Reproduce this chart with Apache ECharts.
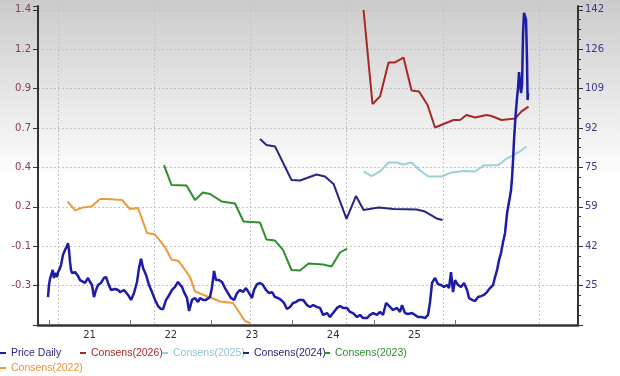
<!DOCTYPE html>
<html>
<head>
<meta charset="utf-8">
<script src="https://cdn.jsdelivr.net/npm/echarts@6/dist/echarts.min.js"></script>
<style>
html, body { margin: 0; padding: 0; background: #fff; }
#chart { width: 620px; height: 376px; }
</style>
</head>
<body>
<div id="chart"></div>
<script>
// tick labels
var leftTicks = ['-0.3', '-0.1', '0.2', '0.4', '0.7', '0.9', '1.2', '1.4'];
var rightTicks = ['25', '42', '59', '75', '92', '109', '126', '142'];
var yearLabels = ['21', '22', '23', '24', '25'];
var yearLabelPos = [21, 22, 23, 24, 25];
var yearTickPos = [20.5, 21.5, 22.5, 23.5, 24.5, 25.5];

// Price Daily (right axis)
var priceYears = [
	2020.896, 2020.906, 2020.917, 2020.927, 2020.945, 2020.958, 2020.969, 2020.990, 2021.000, 2021.021,
	2021.031, 2021.052, 2021.073, 2021.094, 2021.104, 2021.114, 2021.125, 2021.135, 2021.146, 2021.177,
	2021.208, 2021.229, 2021.249, 2021.281, 2021.312, 2021.333, 2021.353, 2021.374, 2021.395, 2021.416,
	2021.447, 2021.478, 2021.499, 2021.520, 2021.551, 2021.593, 2021.624, 2021.645, 2021.686, 2021.728,
	2021.759, 2021.790, 2021.821, 2021.842, 2021.863, 2021.884, 2021.915, 2021.946, 2021.977, 2022.008,
	2022.040, 2022.071, 2022.092, 2022.123, 2022.143, 2022.185, 2022.216, 2022.247, 2022.289, 2022.310,
	2022.341, 2022.362, 2022.393, 2022.424, 2022.455, 2022.476, 2022.507, 2022.538, 2022.580, 2022.601,
	2022.622, 2022.642, 2022.674, 2022.705, 2022.736, 2022.767, 2022.798, 2022.830, 2022.861, 2022.892,
	2022.923, 2022.954, 2022.986, 2023.017, 2023.037, 2023.069, 2023.100, 2023.131, 2023.162, 2023.193,
	2023.225, 2023.256, 2023.287, 2023.318, 2023.349, 2023.380, 2023.412, 2023.443, 2023.474, 2023.505,
	2023.547, 2023.588, 2023.620, 2023.651, 2023.692, 2023.724, 2023.755, 2023.796, 2023.827, 2023.859,
	2023.900, 2023.931, 2023.963, 2024.004, 2024.035, 2024.067, 2024.108, 2024.139, 2024.171, 2024.212,
	2024.243, 2024.275, 2024.316, 2024.347, 2024.378, 2024.410, 2024.451, 2024.482, 2024.524, 2024.555,
	2024.576, 2024.607, 2024.638, 2024.680, 2024.711, 2024.742, 2024.784, 2024.815, 2024.846, 2024.867,
	2024.888, 2024.919, 2024.950, 2024.981, 2025.012, 2025.044, 2025.064, 2025.085, 2025.106, 2025.127,
	2025.158, 2025.189, 2025.220, 2025.252, 2025.272, 2025.304, 2025.335, 2025.366, 2025.397, 2025.428,
	2025.459, 2025.491, 2025.522, 2025.543, 2025.564, 2025.584, 2025.605, 2025.626, 2025.647, 2025.668,
	2025.688, 2025.709, 2025.720, 2025.730, 2025.740, 2025.751, 2025.761, 2025.772, 2025.782, 2025.792,
	2025.803, 2025.813, 2025.823, 2025.834, 2025.844, 2025.855, 2025.865, 2025.875, 2025.881, 2025.886
];
var priceValues = [
	20.4, 25.5, 28.1, 27.6, 31.9, 28.5, 30.6, 28.9, 31.0, 32.7,
	34.0, 38.3, 40.4, 42.1, 43.3, 40.4, 35.3, 31.9, 30.6, 31.0,
	29.3, 27.6, 28.1, 26.4, 28.5, 26.8, 25.5, 20.4, 23.4, 25.5,
	26.4, 28.5, 28.9, 26.4, 23.4, 23.8, 23.4, 22.5, 23.4, 21.3,
	19.2, 22.1, 26.8, 32.7, 36.6, 32.7, 29.8, 25.5, 22.5, 19.2,
	16.6, 15.3, 15.3, 19.2, 20.4, 23.4, 24.7, 26.8, 24.7, 22.5,
	20.0, 14.5, 19.2, 20.0, 18.3, 20.0, 19.2, 19.2, 20.4, 24.7,
	31.5, 27.6, 27.6, 26.8, 24.2, 22.1, 20.0, 19.2, 22.1, 23.4,
	22.5, 24.2, 22.1, 20.0, 23.4, 25.9, 26.4, 25.5, 23.4, 22.1,
	22.5, 20.4, 20.0, 19.2, 17.9, 15.3, 16.2, 17.9, 18.3, 19.2,
	19.2, 17.0, 16.2, 17.0, 16.2, 15.8, 12.8, 13.6, 11.9, 13.6,
	15.8, 16.6, 15.8, 15.8, 14.1, 13.6, 11.9, 12.8, 11.5, 11.5,
	12.8, 13.6, 12.8, 14.1, 12.8, 17.9, 16.2, 14.9, 15.8, 14.1,
	17.0, 13.6, 13.2, 13.6, 12.8, 11.9, 11.9, 11.5, 12.8, 18.3,
	26.4, 28.5, 25.9, 25.5, 24.7, 25.5, 24.2, 31.0, 22.5, 27.6,
	25.5, 24.7, 26.4, 23.4, 20.0, 19.2, 18.7, 20.4, 20.8, 21.3,
	22.5, 24.2, 25.5, 28.9, 31.9, 36.1, 39.1, 43.8, 47.6, 56.1,
	60.7, 65.8, 71.4, 78.6, 87.1, 94.3, 99.8, 105.3, 109.1, 115.9,
	111.2, 107.0, 110.4, 132.5, 141.0, 141.4, 138.0, 121.0, 104.0, 107.0
];

// consensus EPS (left axis)
var c2026Years = [2024.176, 2024.269, 2024.347, 2024.436, 2024.503, 2024.591, 2024.675, 2024.753, 2024.841, 2024.919,
	2025.007, 2025.111, 2025.179, 2025.246, 2025.335, 2025.454, 2025.506, 2025.610, 2025.751, 2025.818, 2025.891];
var c2026Values = [1.409, 0.812, 0.860, 1.076, 1.076, 1.107, 0.898, 0.892, 0.806, 0.663,
	0.685, 0.711, 0.711, 0.742, 0.727, 0.742, 0.736, 0.711, 0.720, 0.765, 0.796];

var c2025Years = [2024.176, 2024.259, 2024.347, 2024.436, 2024.519, 2024.591, 2024.675, 2024.763, 2024.851, 2024.987,
	2025.091, 2025.215, 2025.335, 2025.423, 2025.579, 2025.662, 2025.735, 2025.802, 2025.870];
var c2025Values = [0.384, 0.355, 0.384, 0.441, 0.441, 0.428, 0.441, 0.390, 0.352, 0.352,
	0.378, 0.387, 0.384, 0.422, 0.425, 0.466, 0.489, 0.511, 0.543];

var c2024Years = [2023.100, 2023.167, 2023.256, 2023.427, 2023.516, 2023.687, 2023.775, 2023.864, 2023.999, 2024.098,
	2024.176, 2024.332, 2024.488, 2024.727, 2024.815, 2024.935, 2024.997];
var c2024Values = [0.590, 0.552, 0.543, 0.330, 0.327, 0.365, 0.352, 0.305, 0.083, 0.229,
	0.140, 0.156, 0.146, 0.143, 0.130, 0.086, 0.076];

var c2023Years = [2022.102, 2022.180, 2022.336, 2022.424, 2022.507, 2022.580, 2022.700, 2022.840, 2022.928, 2023.100,
	2023.167, 2023.256, 2023.339, 2023.427, 2023.516, 2023.604, 2023.755, 2023.843, 2023.931, 2024.004];
var c2023Values = [0.425, 0.298, 0.295, 0.203, 0.251, 0.241, 0.194, 0.181, 0.067, 0.060,
	-0.048, -0.054, -0.114, -0.241, -0.244, -0.200, -0.206, -0.219, -0.130, -0.105];

var c2022Years = [2021.099, 2021.177, 2021.260, 2021.348, 2021.437, 2021.509, 2021.665, 2021.748, 2021.832, 2021.925,
	2022.008, 2022.112, 2022.180, 2022.253, 2022.372, 2022.424, 2022.528, 2022.611, 2022.684, 2022.819,
	2022.892, 2022.944, 2022.996];
var c2022Values = [0.194, 0.137, 0.156, 0.162, 0.209, 0.209, 0.203, 0.146, 0.152, -0.006,
	-0.016, -0.095, -0.174, -0.184, -0.285, -0.377, -0.403, -0.422, -0.441, -0.450,
	-0.517, -0.565, -0.577];

function zip(xs, ys) {
	var out = [];
	for (var i = 0; i < xs.length; i++) out.push([xs[i], ys[i]]);
	return out;
}

// label ticks counted from min; min and max themselves stay blank
function tickLabel(labels, min, step) {
	return function (v) {
		var k = (v - min) / step - 1;
		var i = Math.round(k);
		return Math.abs(k - i) < 0.01 && labels[i] != null ? labels[i] : '';
	};
}

var LMIN = -0.59, LMAX = 1.434, LSTEP = 0.25;
var RMIN = 8.54, RMAX = 143.91, RSTEP = 16.72;

var font = 'DejaVu Sans, Verdana, sans-serif';
var legendFont = 'Liberation Sans, Arial, sans-serif';

function consSeries(name, color, xs, ys) {
	return {
		name: name,
		type: 'line',
		xAxisIndex: 0,
		yAxisIndex: 0,
		data: zip(xs, ys),
		symbol: 'none',
		color: color,
		lineStyle: { color: color, width: 2 }
	};
}

function legendAt(name, color, left, top) {
	return {
		data: [name],
		left: left,
		top: top,
		padding: 0,
		icon: 'rect',
		itemWidth: 6,
		itemHeight: 2,
		selectedMode: false,
		textStyle: { color: color, fontFamily: legendFont, fontSize: 10.5, lineHeight: 14 }
	};
}

var chart = echarts.init(document.getElementById('chart'));
var option = {
	animation: false,
	backgroundColor: {
		type: 'linear', x: 0, y: 0, x2: 0, y2: 1,
		colorStops: [
			{ offset: 0, color: '#cbcbcb' },
			{ offset: 0.48, color: '#ffffff' },
			{ offset: 1, color: '#ffffff' }
		]
	},
	grid: { left: 38, right: 42, top: 6, bottom: 51 },
	legend: [
		legendAt('Price Daily', '#2a2a80', 0, 346),
		legendAt('Consens(2026)', '#a82828', 80, 346),
		legendAt('Consens(2025)', '#8fc3d3', 162, 346),
		legendAt('Consens(2024)', '#262680', 243, 346),
		legendAt('Consens(2023)', '#2f8f2f', 324, 346),
		legendAt('Consens(2022)', '#e8953a', 0, 361)
	],
	xAxis: [{
		type: 'value',
		min: 2020.792,
		max: 2026.405,
		position: 'bottom',
		axisLine: { show: true, onZero: false, lineStyle: { color: '#333', width: 2.5 } },
		axisTick: { show: false },
		axisLabel: { show: false },
		splitLine: { show: true, lineStyle: { color: '#c4c4c4', type: [2, 2], width: 1 } }
	}, {
		type: 'value',
		min: 20.365,
		max: 27.015,
		position: 'bottom',
		axisLine: { show: false, onZero: false },
		splitLine: { show: false },
		axisTick: { show: true, inside: true, length: 5, customValues: yearTickPos, lineStyle: { color: '#777' } },
		axisLabel: {
			customValues: yearLabelPos,
			margin: 5,
			color: '#333',
			fontFamily: font,
			fontSize: 10,
			formatter: function (v) {
				var i = yearLabelPos.indexOf(Math.round(v));
				return i >= 0 && Math.abs(v - Math.round(v)) < 0.01 ? yearLabels[i] : '';
			}
		}
	}],
	yAxis: [{
		type: 'value',
		position: 'left',
		min: LMIN,
		max: LMAX,
		interval: LSTEP,
		axisLine: { show: true, onZero: false, lineStyle: { color: '#333', width: 2 } },
		axisTick: { show: true, length: 5, lineStyle: { color: '#333' } },
		axisLabel: { color: '#8a3a4c', fontFamily: font, fontSize: 10, margin: 7, formatter: tickLabel(leftTicks, LMIN, LSTEP) },
		splitLine: { show: true, lineStyle: { color: '#c4c4c4', type: [2, 2], width: 1 } }
	}, {
		type: 'value',
		position: 'right',
		min: RMIN,
		max: RMAX,
		interval: RSTEP,
		axisLine: { show: true, onZero: false, lineStyle: { color: '#333', width: 2 } },
		axisTick: { show: true, length: 5, lineStyle: { color: '#333' } },
		minorTick: { show: true, splitNumber: 4, length: 3, lineStyle: { color: '#333' } },
		axisLabel: { color: '#3a3a8c', fontFamily: font, fontSize: 10, margin: 7, formatter: tickLabel(rightTicks, RMIN, RSTEP) },
		splitLine: { show: false }
	}],
	series: [
		{
			name: 'Price Daily',
			type: 'line',
			xAxisIndex: 0,
			yAxisIndex: 1,
			data: zip(priceYears, priceValues),
			symbol: 'none',
			color: '#1c1ca6',
			lineStyle: { color: '#1c1ca6', width: 2.5 },
			z: 5
		},
		consSeries('Consens(2026)', '#a82828', c2026Years, c2026Values),
		consSeries('Consens(2025)', '#9dd0dc', c2025Years, c2025Values),
		consSeries('Consens(2024)', '#262680', c2024Years, c2024Values),
		consSeries('Consens(2023)', '#2f8f2f', c2023Years, c2023Values),
		consSeries('Consens(2022)', '#ee9a3a', c2022Years, c2022Values)
	]
};
chart.setOption(option);
</script>
</body>
</html>
